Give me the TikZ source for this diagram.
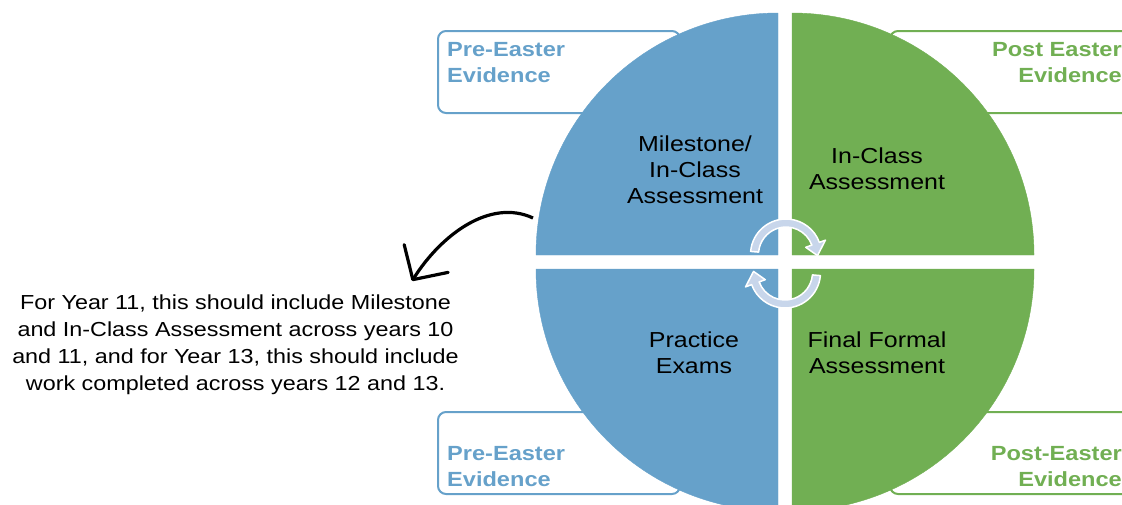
\documentclass[tikz,border=0pt]{standalone}
\usepackage{fontspec}
\setmainfont{Liberation Sans}[FakeStretch=1.15]
\usepackage{tikz}
\usetikzlibrary{arrows.meta}
\definecolor{qblue}{HTML}{66A1CA}
\definecolor{qgreen}{HTML}{71AF53}
\definecolor{cyclefill}{HTML}{C8D6EB}

\begin{document}
\begin{tikzpicture}[x=1pt,y=-1pt,
  quadlabel/.style={align=center,inner sep=0pt,anchor=north,font=\fontsize{21.7}{26}\selectfont},
  evidbox/.style={rounded corners=8pt,line width=2pt},
  evidtext/.style={inner sep=0pt,font=\bfseries\fontsize{20.5}{26}\selectfont},
  cycleshape/.style={fill=cyclefill,draw=white,line width=1.5pt,line join=round},
  pointer/.style={line width=3.2pt,-{Straight Barb[length=25pt,width=52pt,round]}}]
 \path[use as bounding box] (0,0) rectangle (1122,504);
 \clip (0,0) rectangle (1122,504);

\draw[evidbox,draw=qblue] (438,31) rectangle (680,113);
\draw[evidbox,draw=qgreen] (890,31) rectangle (1132,113);
\draw[evidbox,draw=qblue] (438,412) rectangle (680,494);
\draw[evidbox,draw=qgreen] (890,412) rectangle (1132,494);

\node[evidtext,text=qblue,align=left,anchor=north west] (pretop) at (447,42) {Pre-Easter\\Evidence};
\node[evidtext,text=qgreen,align=right,anchor=north east] (posttop) at (1122,42) {Post Easter\\Evidence};
\node[evidtext,text=qblue,align=left,anchor=south west] (prebot) at (447,487) {Pre-Easter\\Evidence};
\node[evidtext,text=qgreen,align=right,anchor=south east] (postbot) at (1122,487) {Post-Easter\\Evidence};

\filldraw[fill=qblue, draw=qblue] (778,255) -- ++(-242,0) arc[start angle=180, end angle=270, radius=242] -- cycle;
\filldraw[fill=qgreen, draw=qgreen] (792,255) -- ++(0,-242) arc[start angle=270, end angle=360, radius=242] -- cycle;
\filldraw[fill=qblue, draw=qblue] (778,269) -- ++(-242,0) arc[start angle=180, end angle=90, radius=242] -- cycle;
\filldraw[fill=qgreen, draw=qgreen] (792,269) -- ++(242,0) arc[start angle=0, end angle=90, radius=242] -- cycle;

\node[quadlabel] (milestone) at (695,136) {Milestone/\\In-Class\\Assessment};
\node[quadlabel] (inclass) at (877,148) {In-Class\\Assessment};
\node[quadlabel] (practice) at (694,332) {Practice\\Exams};
\node[quadlabel] (finalformal) at (877,332) {Final Formal\\Assessment};

\begin{scope}[shift={(786,254.5)}]
\filldraw[cycleshape] (185:35.5) arc[start angle=185, end angle=340, radius=35.5] -- (340:42) -- (362:31.5) -- (340:21) -- (340:27.5) arc[start angle=340, end angle=185, radius=27.5] -- cycle;
\end{scope}
\begin{scope}[shift={(785,272.5)}]
\filldraw[cycleshape] (5:35.5) arc[start angle=5, end angle=160, radius=35.5] -- (160:42) -- (182:31.5) -- (160:21) -- (160:27.5) arc[start angle=160, end angle=5, radius=27.5] -- cycle;
\end{scope}

\node[align=center,inner sep=0pt,anchor=north,font=\fontsize{20.3}{26.7}\selectfont] (note) at (235.5,295)
 {For Year 11, this should include Milestone\\and In-Class Assessment across years 10\\and 11, and for Year 13, this should include\\work completed across years 12 and 13.};

\coordinate (arrstart) at (533,218);
\coordinate (arrend) at (412,281);
\draw[pointer] (arrstart) .. controls (490,198) and (441,235) .. (arrend);

\end{tikzpicture}
\end{document}
